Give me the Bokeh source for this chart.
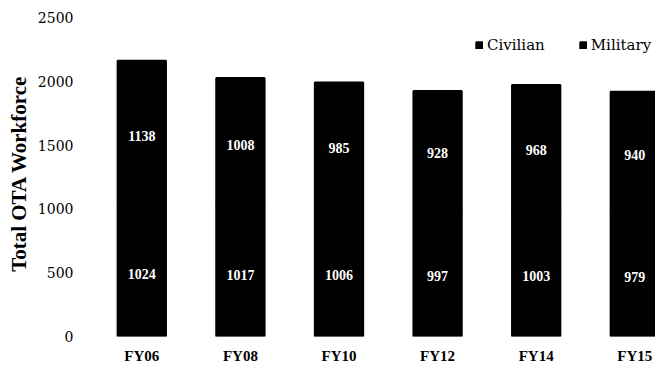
from bokeh.plotting import figure
from bokeh.models import ColumnDataSource, Range1d, FixedTicker
from bokeh.core.properties import value
from bokeh.embed import file_html
from bokeh.resources import INLINE

years = ["FY06", "FY08", "FY10", "FY12", "FY14", "FY15"]
civilian = [1024, 1017, 1006, 997, 1003, 979]
military = [1138, 1008, 985, 928, 968, 940]
y_ticks = [0, 500, 1000, 1500, 2000, 2500]

FONT = "Liberation Serif"
FONT_REG = "DejaVu Serif"
xs = list(range(len(years)))

src = ColumnDataSource(dict(
    x=xs, civilian=civilian, military=military,
    civ_mid=[c / 2 for c in civilian],
    mil_mid=[c + m / 2 for c, m in zip(civilian, military)],
    civ_txt=[str(c) for c in civilian],
    mil_txt=[str(m) for m in military],
))

p = figure(width=655, height=366, output_backend="svg", toolbar_location=None,
           x_range=Range1d(-0.5, 5.21), y_range=Range1d(0, 2555),
           min_border_left=92, min_border_right=0, min_border_top=10, min_border_bottom=29)

p.vbar_stack(["civilian", "military"], x="x", width=0.49, source=src,
             color=["black", "black"], line_color="black", line_width=2,
             legend_label=["Civilian", "Military"])

for ycol, tcol in (("civ_mid", "civ_txt"), ("mil_mid", "mil_txt")):
    p.text(x="x", y=ycol, text=tcol, source=src, text_color="white",
           text_font=value(FONT), text_font_style="bold", text_font_size="14px",
           text_align="center", text_baseline="middle", y_offset=3)

p.xaxis.ticker = FixedTicker(ticks=xs)
p.xaxis.major_label_overrides = {i: y for i, y in enumerate(years)}
p.yaxis.ticker = FixedTicker(ticks=y_ticks)

for ax in (p.xaxis[0], p.yaxis[0]):
    ax.axis_line_color = None
    ax.major_tick_line_color = None
    ax.minor_tick_line_color = None
    ax.major_tick_out = 0
    ax.major_tick_in = 0
    ax.major_label_text_color = "black"

p.xaxis.major_label_text_font = FONT
p.xaxis.major_label_text_font_style = "bold"
p.xaxis.major_label_text_font_size = "15px"
p.xaxis.major_label_standoff = 11
p.yaxis.major_label_text_font = FONT_REG
p.yaxis.major_label_text_font_size = "14px"
p.yaxis.major_label_standoff = 19
p.yaxis.axis_label = "Total OTA Workforce"
p.yaxis.axis_label_text_font = FONT
p.yaxis.axis_label_text_font_style = "bold"
p.yaxis.axis_label_text_font_size = "21px"
p.yaxis.axis_label_standoff = 4
p.yaxis.axis_label_text_color = "black"

p.xgrid.grid_line_color = None
p.ygrid.grid_line_color = None
p.outline_line_color = None

p.legend.orientation = "horizontal"
p.legend.location = (383, 282)
p.legend.glyph_width = 8
p.legend.glyph_height = 8
p.legend.label_standoff = 4
p.legend.spacing = 34
p.legend.padding = 0
p.legend.margin = 0
p.legend.border_line_color = None
p.legend.background_fill_alpha = 0
p.legend.label_text_font = FONT_REG
p.legend.label_text_font_size = "15px"
p.legend.label_text_color = "black"
p.legend.label_height = 18

open("out.html", "w").write(file_html(p, INLINE))
